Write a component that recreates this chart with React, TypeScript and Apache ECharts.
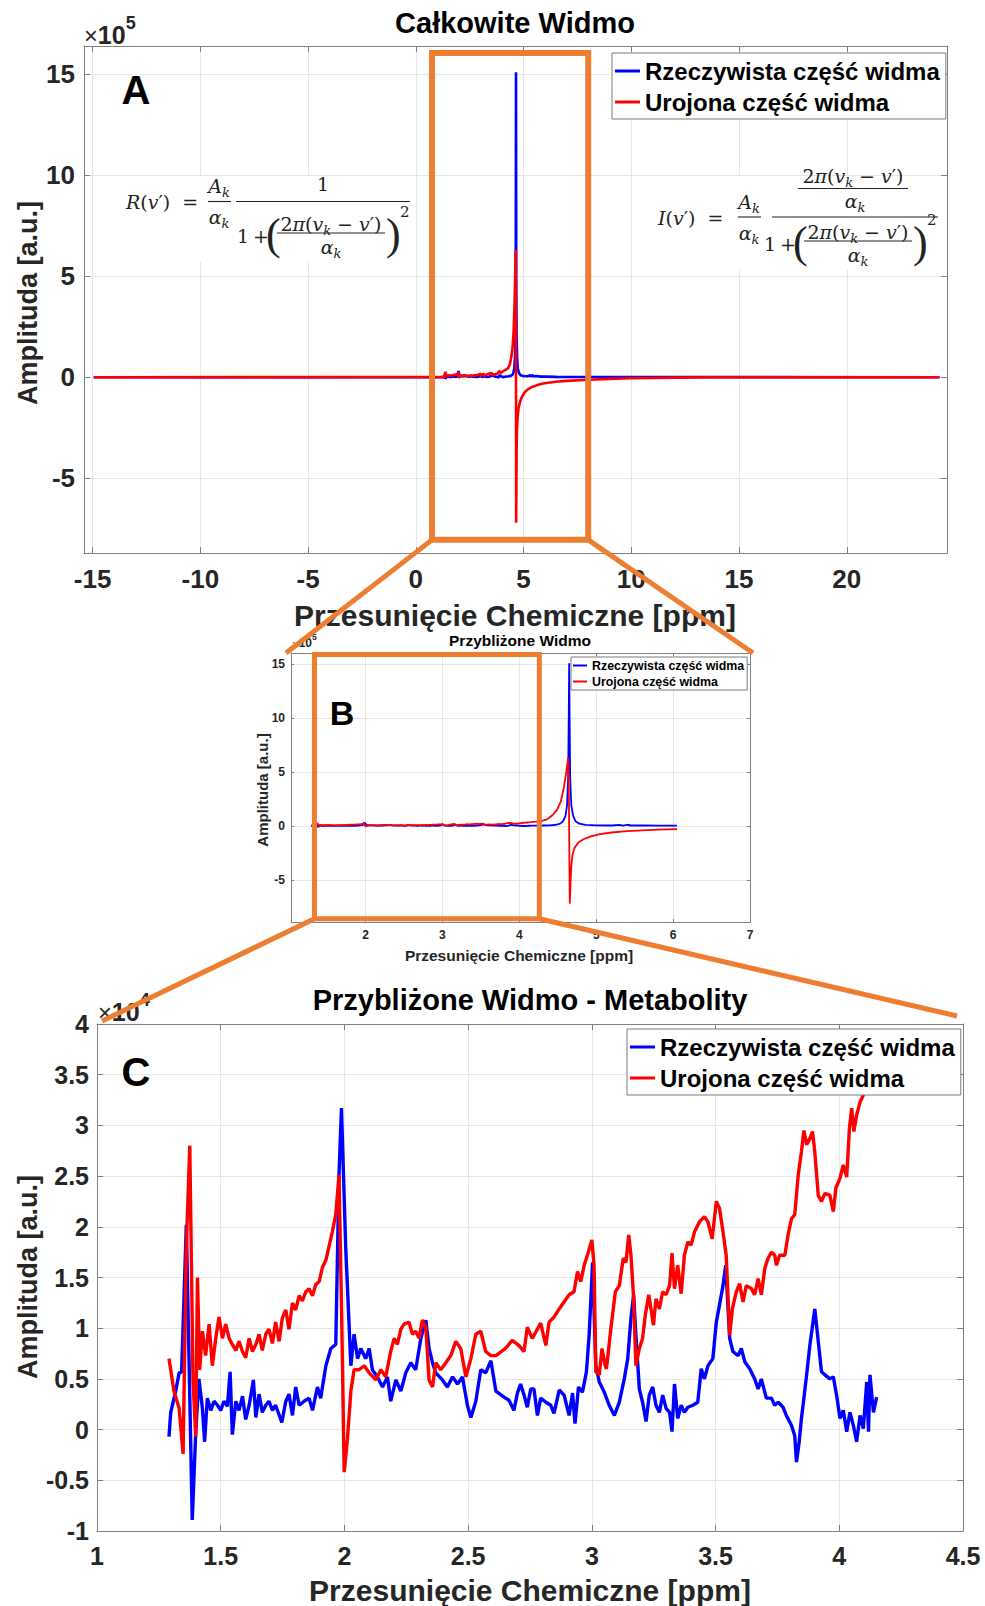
import React, { useEffect, useRef } from "react";
import * as echarts from "echarts";

const FONT = "'Liberation Sans', Arial, Helvetica, sans-serif";
const MATH = "'DejaVu Serif', 'Liberation Serif', serif";
const PAREN = "'Liberation Serif', 'DejaVu Serif', serif";
const BLUE = "#0000ff";
const RED = "#ff0000";
const ORANGE = "#ed7d31";
const INK = "#262626";
const AXIS_C = "#808080";
const GRID_C = "#e6e6e6";

const LEG_REAL = "Rzeczywista część widma";
const LEG_IMAG = "Urojona część widma";
const TITLE_A = "Całkowite Widmo";
const TITLE_B = "Przybliżone Widmo";
const TITLE_C = "Przybliżone Widmo - Metabolity";
const X_LABEL = "Przesunięcie Chemiczne [ppm]";
const Y_LABEL = "Amplituda [a.u.]";

// axis limits [min, max] and tick steps
const xLimA = [-15.4, 24.65];
const yLimA = [-8.7, 16.4];
const xLimB = [1.03, 7.0];
const yLimB = [-8.9, 16.05];
const xLimC = [1, 4.5];
const yLimC = [-1, 4];
const stepA = [5, 5];
const stepB = [1, 5];
const stepC = [0.5, 0.5];

// zoom rectangles in data units [xmin, xmax, ymin, ymax]
const zoomBoxA = [0.75, 8.0, -8.05, 16.05];
const zoomBoxB = [1.335, 4.26, -8.6, 15.9];

// Metabolite region (x10^4), real part
const metabReal = [
  [1.291,-0.07],[1.298,0.17],[1.318,0.38],[1.332,0.56],[1.342,0.57],[1.361,2.02],[1.385,-0.89],[1.399,-0.03],[1.412,0.50],[1.426,0.21],[1.435,-0.12],[1.446,0.31],[1.460,0.19],[1.473,0.28],[1.487,0.24],[1.500,0.19],[1.513,0.28],[1.527,0.23],[1.538,0.57],[1.547,-0.05],[1.561,0.28],[1.574,0.19],[1.588,0.33],[1.601,0.10],[1.615,0.24],[1.632,0.49],[1.642,0.12],[1.655,0.35],[1.668,0.17],[1.682,0.24],[1.695,0.28],[1.709,0.19],[1.722,0.24],[1.747,0.07],[1.763,0.28],[1.776,0.35],[1.790,0.14],[1.803,0.42],[1.817,0.24],[1.837,0.28],[1.857,0.31],[1.871,0.19],[1.891,0.42],[1.904,0.31],[1.925,0.63],[1.945,0.80],[1.965,0.84],[1.978,2.51],[1.988,3.17],[2.005,1.81],[2.026,0.63],[2.039,0.94],[2.053,0.70],[2.066,0.80],[2.086,0.70],[2.100,0.80],[2.113,0.59],[2.133,0.52],[2.154,0.42],[2.174,0.52],[2.187,0.28],[2.208,0.49],[2.228,0.38],[2.248,0.56],[2.268,0.66],[2.288,0.59],[2.309,0.90],[2.329,1.08],[2.342,0.80],[2.356,0.66],[2.369,0.56],[2.396,0.49],[2.416,0.42],[2.437,0.52],[2.457,0.45],[2.477,0.52],[2.497,0.24],[2.511,0.12],[2.531,0.28],[2.551,0.59],[2.571,0.56],[2.592,0.68],[2.612,0.38],
  [2.645,0.32],[2.665,0.29],[2.685,0.19],[2.699,0.36],[2.712,0.45],[2.726,0.34],[2.739,0.22],[2.753,0.40],[2.766,0.40],[2.780,0.14],[2.793,0.31],[2.814,0.27],[2.834,0.24],[2.847,0.16],[2.868,0.39],[2.888,0.34],[2.908,0.14],[2.922,0.36],[2.932,0.06],[2.946,0.42],[2.962,0.37],[2.978,0.57],[2.989,0.93],[3.003,1.65],[3.016,0.63],[3.030,0.47],[3.050,0.37],[3.070,0.24],[3.091,0.14],[3.111,0.27],[3.131,0.50],[3.145,0.70],[3.158,1.10],[3.169,1.33],[3.178,0.93],[3.192,0.40],[3.205,0.27],[3.219,0.08],[3.232,0.34],[3.246,0.42],[3.259,0.24],[3.273,0.17],[3.286,0.34],[3.300,0.21],[3.314,0.17],[3.324,-0.02],[3.334,0.45],[3.347,0.11],[3.361,0.24],[3.374,0.17],[3.388,0.22],[3.408,0.24],[3.428,0.27],[3.442,0.60],[3.455,0.50],[3.469,0.63],[3.489,0.70],[3.503,1.06],[3.516,1.23],[3.530,1.42],[3.541,1.62],[3.557,0.90],[3.570,0.77],[3.591,0.73],[3.604,0.80],[3.618,0.67],[3.638,0.60],[3.658,0.50],[3.672,0.40],[3.685,0.50],[3.705,0.31],[3.726,0.31],[3.739,0.24],[3.753,0.27],[3.773,0.22],[3.786,0.14],[3.807,0.04],[3.820,-0.06],[3.827,-0.32],[3.838,-0.12],[3.847,0.11],[3.857,0.31],[3.868,0.54],[3.881,0.83],[3.901,1.19],[3.915,0.87],[3.928,0.57],[3.942,0.54],[3.962,0.50],[3.976,0.52],[3.989,0.34],[4.003,0.11],[4.016,0.19],[4.030,-0.02],[4.043,0.17],[4.057,0.04],[4.070,-0.12],[4.084,0.14],[4.097,0.01],[4.111,0.47],[4.118,-0.02],[4.124,0.54],[4.138,0.17],[4.151,0.32]
];

// Metabolite region (x10^4), imaginary part
const metabImag = [
  [1.291,0.70],[1.311,0.38],[1.332,0.21],[1.348,-0.24],[1.361,1.81],[1.375,2.80],[1.388,0.49],[1.399,-0.07],[1.406,1.50],[1.415,0.59],[1.426,0.97],[1.439,0.73],[1.453,1.04],[1.466,0.63],[1.480,0.90],[1.493,1.11],[1.507,0.90],[1.520,1.04],[1.534,0.90],[1.547,0.84],[1.561,0.78],[1.574,0.87],[1.588,0.77],[1.601,0.71],[1.615,0.90],[1.628,0.77],[1.642,0.84],[1.655,0.94],[1.668,0.78],[1.682,0.94],[1.695,0.99],[1.709,0.85],[1.722,1.06],[1.736,0.87],[1.749,1.10],[1.763,1.18],[1.776,0.99],[1.790,1.25],[1.803,1.18],[1.817,1.32],[1.830,1.27],[1.844,1.36],[1.857,1.39],[1.871,1.32],[1.884,1.43],[1.898,1.46],[1.911,1.60],[1.925,1.67],[1.938,1.81],[1.951,1.95],[1.965,2.12],[1.978,2.51],[1.989,1.11],[1.999,-0.42],[2.012,-0.10],[2.026,0.38],[2.039,0.59],[2.059,0.59],[2.080,0.63],[2.100,0.56],[2.127,0.49],[2.147,0.59],[2.167,0.52],[2.187,0.77],[2.201,0.90],[2.214,0.84],[2.228,0.99],[2.241,1.04],[2.261,1.06],[2.275,0.94],[2.288,0.97],[2.302,0.90],[2.315,1.08],[2.329,1.01],[2.342,0.49],[2.356,0.42],[2.369,0.66],[2.389,0.59],[2.410,0.66],[2.430,0.73],[2.450,0.87],[2.470,0.80],[2.491,0.52],[2.511,0.70],[2.531,0.94],[2.551,0.97],[2.571,0.77],[2.592,0.73],[2.612,0.73],
  [2.651,0.80],[2.678,0.88],[2.705,0.83],[2.726,0.77],[2.739,1.01],[2.759,0.90],[2.773,0.96],[2.793,1.05],[2.814,0.83],[2.827,1.06],[2.847,1.11],[2.868,1.19],[2.888,1.26],[2.908,1.33],[2.928,1.36],[2.942,1.56],[2.955,1.46],[2.969,1.62],[2.982,1.72],[3.000,1.87],[3.009,1.62],[3.016,0.57],[3.030,0.54],[3.041,0.80],[3.054,0.63],[3.059,0.60],[3.077,1.00],[3.095,1.36],[3.111,1.42],[3.127,1.69],[3.138,1.65],[3.149,1.92],[3.158,1.72],[3.168,1.33],[3.178,0.63],[3.192,0.80],[3.205,0.90],[3.216,1.13],[3.230,1.33],[3.239,1.19],[3.249,1.03],[3.259,1.29],[3.273,1.19],[3.286,1.36],[3.300,1.33],[3.314,1.42],[3.324,1.74],[3.334,1.39],[3.347,1.62],[3.361,1.34],[3.374,1.72],[3.388,1.85],[3.401,1.82],[3.415,1.95],[3.435,2.05],[3.455,2.10],[3.469,2.05],[3.486,1.88],[3.503,2.25],[3.516,2.18],[3.530,1.95],[3.543,1.72],[3.557,0.93],[3.568,1.19],[3.584,1.36],[3.597,1.44],[3.611,1.26],[3.624,1.42],[3.645,1.39],[3.658,1.33],[3.672,1.49],[3.685,1.33],[3.699,1.59],[3.712,1.69],[3.726,1.75],[3.739,1.72],[3.746,1.62],[3.759,1.72],[3.780,1.72],[3.793,1.92],[3.807,2.08],[3.820,2.12],[3.834,2.51],[3.847,2.74],[3.857,2.95],[3.868,2.81],[3.881,2.87],[3.892,2.94],[3.901,2.74],[3.915,2.31],[3.928,2.25],[3.942,2.33],[3.962,2.31],[3.976,2.15],[3.986,2.38],[4.003,2.48],[4.016,2.61],[4.030,2.49],[4.041,2.97],[4.050,3.17],[4.059,2.94],[4.070,3.10],[4.084,3.23],[4.097,3.30],[4.124,3.45],[4.151,3.60]
];

// Water peak region (x10^5)
const waterReal = [
  [4.18,0.04],[4.30,0.05],[4.40,0.07],[4.48,0.12],[4.53,0.22],[4.57,0.45],[4.60,0.95],[4.62,1.9],[4.635,4.5],[4.643,10.5],[4.648,15.1],[4.653,10.5],[4.661,4.5],[4.676,1.9],[4.70,0.95],[4.73,0.45],[4.78,0.22],[4.86,0.10],[5.0,0.06],[5.2,0.05],[5.3,0.10],[5.35,0.03],[5.4,0.12],[5.45,0.05],[5.6,0.06],[5.8,0.03],[6.05,0.03]
];
const waterImag = [
  [4.18,0.38],[4.28,0.45],[4.36,0.62],[4.43,1.0],[4.49,1.5],[4.54,2.3],[4.58,3.6],[4.61,5.0],[4.635,6.3],[4.645,2.5],[4.650,-2.5],[4.656,-7.2],[4.664,-5.6],[4.675,-3.8],[4.69,-2.7],[4.72,-2.0],[4.77,-1.5],[4.84,-1.2],[4.93,-0.95],[5.05,-0.75],[5.2,-0.6],[5.4,-0.48],[5.6,-0.4],[5.8,-0.33],[6.05,-0.28]
];

// Outer (flat) parts of the full spectrum (x10^5)
const outerLeftReal = [[-14.95,0],[1.25,0]];
const outerLeftImag = [[-14.95,0],[1.25,0.01]];
const outerRightReal = [[6.5,0.02],[8,0.01],[24.3,0]];
const outerRightImag = [[6.5,-0.22],[7,-0.18],[8,-0.12],[9,-0.08],[10,-0.05],[12,-0.02],[14,0],[24.3,0]];

const gridA = { left: 84, top: 46, width: 863, height: 507 };
const gridB = { left: 291, top: 653, width: 459, height: 269 };
const gridC = { left: 97, top: 1024, width: 866, height: 507 };

function labelFmt(step: number) {
  return (v: number) => {
    const r = v / step;
    return Math.abs(r - Math.round(r)) < 1e-6 ? String(Math.round(v * 1000) / 1000) : "";
  };
}

function makeAxes(c: any) {
  const split = { show: true, lineStyle: { color: GRID_C, width: 1 } };
  const line = { show: true, onZero: false, lineStyle: { color: AXIS_C, width: 1 } };
  const tick = { show: true, inside: true, length: c.tick, lineStyle: { color: AXIS_C, width: 1 } };
  const label = { fontFamily: FONT, fontSize: c.fs, fontWeight: "bold", color: INK };
  const xBase: any = { type: "value", gridIndex: c.grid, min: c.xlim[0], max: c.xlim[1] };
  const yBase: any = { type: "value", gridIndex: c.grid, min: c.ylim[0], max: c.ylim[1] };
  if (c.xInterval) xBase.interval = c.xInterval; else xBase.splitNumber = c.xSplit;
  if (c.yInterval) yBase.interval = c.yInterval; else yBase.splitNumber = c.ySplit;
  const x = [
    { ...xBase, position: "bottom", axisLine: line, axisTick: tick, splitLine: split,
      axisLabel: { ...label, margin: c.xMargin, formatter: labelFmt(c.step[0]) } },
    { ...xBase, position: "top", axisLine: line, axisTick: tick, splitLine: { show: false }, axisLabel: { show: false } },
  ];
  const y = [
    { ...yBase, position: "left", axisLine: line, axisTick: tick, splitLine: split,
      axisLabel: { ...label, margin: c.yMargin, formatter: labelFmt(c.step[1]) } },
    { ...yBase, position: "right", axisLine: line, axisTick: tick, splitLine: { show: false }, axisLabel: { show: false } },
  ];
  return { x, y };
}

function lineSeries(name: string, data: any[], color: string, idx: number, width: number) {
  return {
    type: "line", name, data, xAxisIndex: idx, yAxisIndex: idx,
    showSymbol: false, symbol: "none", silent: true, animation: false,
    color, itemStyle: { color }, lineStyle: { color, width },
  };
}

function legendAt(left: number, top: number, fs: number, lh: number, gap: number, iw: number, pad: number[]) {
  return {
    data: [LEG_REAL, LEG_IMAG], left, top, orient: "vertical", icon: "rect",
    itemWidth: iw, itemHeight: fs > 14 ? 3 : 2, itemGap: gap, padding: pad,
    backgroundColor: "#ffffff", borderColor: "#7a7a7a", borderWidth: 1, borderRadius: 0,
    selectedMode: false, z: 10,
    textStyle: { fontFamily: FONT, fontSize: fs, fontWeight: "bold", color: "#000", lineHeight: lh },
  };
}

function buildOption() {
  const aA = makeAxes({ grid: 0, xlim: xLimA, ylim: yLimA, xSplit: 8, ySplit: 5, step: stepA, fs: 26, tick: 6, xMargin: 13, yMargin: 9 });
  const aB = makeAxes({ grid: 1, xlim: xLimB, ylim: yLimB, xSplit: 6, ySplit: 5, step: stepB, fs: 12, tick: 3, xMargin: 7, yMargin: 6 });
  const aC = makeAxes({ grid: 2, xlim: xLimC, ylim: yLimC, xInterval: stepC[0], yInterval: stepC[1], step: stepC, fs: 25, tick: 6, xMargin: 12, yMargin: 8 });

  const bReal = [...metabReal.map(([x, y]) => [x, y / 10]), ...waterReal];
  const bImag = [...metabImag.map(([x, y]) => [x, y / 10]), ...waterImag];
  const aReal = [...outerLeftReal, ...bReal, ...outerRightReal];
  const aImag = [...outerLeftImag, ...bImag, ...outerRightImag];

  return {
    animation: false,
    backgroundColor: "#ffffff",
    grid: [
      { ...gridA, containLabel: false, outerBoundsMode: "none" },
      { ...gridB, containLabel: false, outerBoundsMode: "none" },
      { ...gridC, containLabel: false, outerBoundsMode: "none" },
    ],
    xAxis: [...aA.x, ...aB.x, ...aC.x],
    yAxis: [...aA.y, ...aB.y, ...aC.y],
    legend: [
      legendAt(612, 53, 24, 28, 3, 25, [4, 6, 3, 3]),
      legendAt(571, 657, 12.4, 15, 1, 14, [1, 3, 1, 2]),
      legendAt(627, 1029, 24, 28, 3, 25, [4, 6, 3, 3]),
    ],
    series: [
      lineSeries(LEG_REAL, aReal, BLUE, 0, 2.6),
      lineSeries(LEG_IMAG, aImag, RED, 0, 2.6),
      lineSeries(LEG_REAL, bReal, BLUE, 2, 1.8),
      lineSeries(LEG_IMAG, bImag, RED, 2, 1.8),
      lineSeries(LEG_REAL, metabReal, BLUE, 4, 3.4),
      lineSeries(LEG_IMAG, metabImag, RED, 4, 3.4),
    ],
  };
}

// ---------- graphic helpers ----------
function txt(x: number, y: number, text: string, fontSize: number, extra: any = {}) {
  const { rotation, z, ...style } = extra;
  return {
    type: "text", x, y, z: z ?? 20, rotation: rotation ?? 0, silent: true,
    style: { text, fontSize, fontFamily: FONT, fontWeight: "bold", fill: INK, textAlign: "center", textVerticalAlign: "middle", ...style },
  };
}

const MS = 19;
const mathRich = {
  i: { fontFamily: MATH, fontStyle: "italic", fontSize: MS, lineHeight: 25, fill: "#222" },
  n: { fontFamily: MATH, fontSize: MS, lineHeight: 25, fill: "#222" },
  s: { fontFamily: MATH, fontStyle: "italic", fontSize: 13, lineHeight: 13, verticalAlign: "bottom", fill: "#222" },
};
function mtxt(x: number, y: number, text: string, align = "center") {
  return {
    type: "text", x, y, z: 20, silent: true,
    style: { text, rich: mathRich, fontFamily: MATH, fontSize: MS, fill: "#222", textAlign: align, textVerticalAlign: "middle" },
  };
}
function bar(x1: number, x2: number, y: number) {
  return { type: "line", z: 20, silent: true, shape: { x1, y1: y, x2, y2: y }, style: { stroke: "#222", lineWidth: 1.1 } };
}
function paren(x: number, y: number, ch: string) {
  return {
    type: "text", x, y, z: 20, silent: true,
    style: { text: ch, fontFamily: PAREN, fontSize: 44, fill: "#222", textAlign: "left", textVerticalAlign: "middle" },
  };
}
const INNER = "{n|2}{i|π}{n|(}{i|v}{s|k}{n| − }{i|v}{n|′)}";
const ALPHA_K = "{i|α}{s|k}";
const A_K = "{i|A}{s|k}";
function denom(x: number, yb: number) {
  return [
    mtxt(x, yb + 3, "{n|1\u2009+}", "left"),
    paren(x + 29, yb + 1, "("),
    mtxt(x + 94, yb - 9, INNER),
    bar(x + 40, x + 148, yb),
    mtxt(x + 94, yb + 14, ALPHA_K),
    paren(x + 149, yb + 1, ")"),
    { type: "text", x: x + 163, y: yb - 21, z: 20, silent: true,
      style: { text: "2", fontFamily: MATH, fontSize: 15, fill: "#222", textAlign: "left", textVerticalAlign: "middle" } },
  ];
}

function expLabel(x: number, y: number, exp: string, big: number) {
  return {
    type: "text", x, y, z: 15, silent: true,
    style: {
      text: `{a|×}{b|10}{c|${exp}}`,
      textAlign: "left", textVerticalAlign: "middle", fontFamily: FONT,
      rich: {
        a: { fontFamily: FONT, fontSize: big * 0.95, lineHeight: big * 1.35, verticalAlign: "bottom", fill: INK },
        b: { fontFamily: FONT, fontSize: big, fontWeight: "bold", lineHeight: big * 1.35, verticalAlign: "bottom", fill: INK },
        c: { fontFamily: FONT, fontSize: big * 0.72, fontWeight: "bold", lineHeight: big * 0.72, verticalAlign: "top", fill: INK },
      },
    },
  };
}

function buildGraphics(chart: any) {
  const px = (si: number, x: number, y: number) => chart.convertToPixel({ seriesIndex: si }, [x, y]) as number[];
  const els: any[] = [];
  const orange = (lw: number) => ({ stroke: ORANGE, lineWidth: lw, fill: "none" });

  // formula backgrounds
  els.push({ type: "rect", z: 12, silent: true, shape: { x: 118, y: 176, width: 298, height: 86 }, style: { fill: "#fff" } });
  els.push({ type: "rect", z: 12, silent: true, shape: { x: 652, y: 176, width: 292, height: 94 }, style: { fill: "#fff" } });

  // formula R
  els.push(mtxt(126, 202, "{i|R}{n|(}{i|v}{n|′)  =}", "left"));
  els.push(mtxt(219, 186, A_K));
  els.push(bar(208, 231, 201.5));
  els.push(mtxt(219, 217, ALPHA_K));
  els.push(mtxt(323, 184, "{n|1}"));
  els.push(bar(236, 410, 201.5));
  els.push(...denom(237, 233));

  // formula I
  els.push(mtxt(658, 218, "{i|I}{n|(}{i|v}{n|′)  =}", "left"));
  els.push(mtxt(749, 202, A_K));
  els.push(bar(738, 761, 217));
  els.push(mtxt(749, 233, ALPHA_K));
  els.push(mtxt(853, 176, INNER));
  els.push(bar(798, 908, 188.5));
  els.push(mtxt(855, 201, ALPHA_K));
  els.push(bar(772, 938, 217));
  els.push(...denom(764, 241));

  // Panel A texts
  els.push(txt(515, 23, TITLE_A, 29, { fill: "#000" }));
  els.push(expLabel(84, 31, "5", 25));
  els.push(txt(136, 90, "A", 40, { fill: "#000" }));
  els.push(txt(28, 303, Y_LABEL, 27, { rotation: Math.PI / 2 }));
  els.push(txt(515, 615, X_LABEL, 30));

  // Panel B texts
  els.push(txt(520, 640, TITLE_B, 15.5, { fill: "#000" }));
  els.push(expLabel(292, 641, "5", 12));
  els.push(txt(342, 713, "B", 34, { fill: "#000" }));
  els.push(txt(262, 790, Y_LABEL, 15, { rotation: Math.PI / 2 }));
  els.push(txt(519, 955, X_LABEL, 15.5));

  // Panel C texts
  els.push(txt(530, 1000, TITLE_C, 29, { fill: "#000" }));
  els.push(expLabel(98, 1008, "4", 25));
  els.push(txt(136, 1072, "C", 40, { fill: "#000" }));
  els.push(txt(28, 1277, Y_LABEL, 27, { rotation: Math.PI / 2 }));
  els.push(txt(530, 1590, X_LABEL, 30));

  // zoom boxes and connectors (data -> pixel via the chart's scales)
  const a1 = px(0, zoomBoxA[0], zoomBoxA[3]);
  const a2 = px(0, zoomBoxA[1], zoomBoxA[2]);
  els.push({ type: "rect", z: 100, silent: true, shape: { x: a1[0], y: a1[1], width: a2[0] - a1[0], height: a2[1] - a1[1] }, style: orange(6) });
  const bTL = px(2, xLimB[0], yLimB[1]);
  const bTR = px(2, xLimB[1], yLimB[1]);
  els.push({ type: "line", z: 100, silent: true, shape: { x1: a1[0], y1: a2[1], x2: bTL[0] - 5, y2: bTL[1] }, style: orange(5) });
  els.push({ type: "line", z: 100, silent: true, shape: { x1: a2[0], y1: a2[1], x2: bTR[0] + 3, y2: bTR[1] }, style: orange(5) });
  const b1 = px(2, zoomBoxB[0], zoomBoxB[3]);
  const b2 = px(2, zoomBoxB[1], zoomBoxB[2]);
  els.push({ type: "rect", z: 100, silent: true, shape: { x: b1[0], y: b1[1], width: b2[0] - b1[0], height: b2[1] - b1[1] }, style: orange(5) });
  const cTL = px(4, xLimC[0], yLimC[1]);
  const cTR = px(4, xLimC[1], yLimC[1]);
  els.push({ type: "line", z: 100, silent: true, shape: { x1: b1[0], y1: b2[1], x2: cTL[0] + 5, y2: cTL[1] - 3 }, style: orange(5) });
  els.push({ type: "line", z: 100, silent: true, shape: { x1: b2[0], y1: b2[1], x2: cTR[0] - 6, y2: cTR[1] - 8 }, style: orange(5) });

  return els;
}

export default function App() {
  const ref = useRef<HTMLDivElement>(null);
  useEffect(() => {
    document.body.style.margin = "0";
    const chart = echarts.init(ref.current as HTMLDivElement, null, { renderer: "svg", width: 985, height: 1606 });
    chart.setOption(buildOption() as any);
    chart.setOption({ graphic: buildGraphics(chart) } as any);
    return () => chart.dispose();
  }, []);
  return <div ref={ref} style={{ position: "absolute", left: 0, top: 0, width: 985, height: 1606, background: "#fff" }} />;
}
